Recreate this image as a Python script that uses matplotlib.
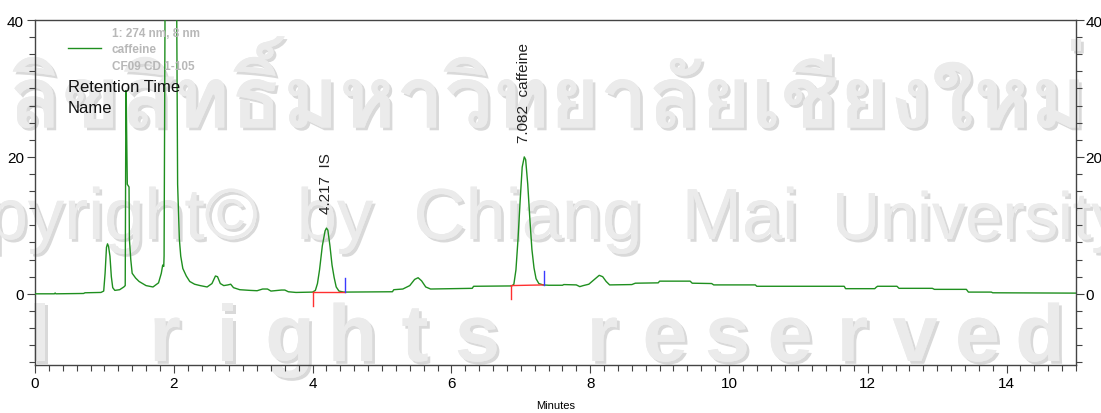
import matplotlib
matplotlib.use("Agg")
import matplotlib.pyplot as plt
import matplotlib.patheffects as pe
from matplotlib.patches import Arc
from matplotlib.ticker import MultipleLocator
from matplotlib import font_manager
from matplotlib.ft2font import FT2Font

# chromatogram trace, 274 nm channel
time_min = [
    0.00, 0.28, 0.29, 0.30, 0.70, 0.72, 0.95, 0.99, 1.01, 1.03, 1.045, 1.06, 1.08, 1.10, 1.12,
    1.15, 1.22, 1.28, 1.30, 1.305, 1.31, 1.315, 1.32, 1.33, 1.355, 1.36, 1.38, 1.40, 1.45, 1.50,
    1.60, 1.70, 1.78, 1.82, 1.84, 1.855, 1.86, 1.875, 1.92, 1.96, 2.00, 2.04, 2.055, 2.08, 2.10,
    2.13, 2.18, 2.23, 2.30, 2.38, 2.48, 2.55, 2.60, 2.63, 2.67, 2.72, 2.78, 2.82, 2.86, 2.95,
    3.10, 3.20, 3.28, 3.35, 3.40, 3.55, 3.60, 3.65, 3.76, 4.00, 4.04, 4.07, 4.10, 4.14, 4.18,
    4.20, 4.22, 4.25, 4.28, 4.31, 4.34, 4.38, 4.45, 5.15, 5.17, 5.30, 5.40, 5.47, 5.52, 5.57,
    5.63, 5.70, 6.30, 6.32, 6.87, 6.90, 6.93, 6.96, 6.99, 7.02, 7.05, 7.07, 7.10, 7.13, 7.16,
    7.19, 7.22, 7.26, 7.32, 7.40, 7.60, 7.62, 7.80, 7.85, 7.90, 7.98, 8.05, 8.13, 8.18, 8.23,
    8.28, 8.60, 8.65, 8.98, 9.00, 9.44, 9.47, 9.75, 9.78, 10.38, 10.40, 11.66, 11.68, 12.10, 12.12,
    12.14, 12.42, 12.45, 12.93, 12.96, 13.42, 13.45, 13.78, 13.80, 15.00,
]
signal = [
    0.0, 0.0, 0.12, 0.0, 0.05, 0.15, 0.2, 0.4, 3.0, 6.8, 7.3, 6.9, 5.5, 2.5, 0.9,
    0.5, 0.6, 1.0, 1.2, 15.0, 29.7, 29.0, 24.0, 16.0, 15.6, 8.0, 5.0, 3.0, 2.3, 1.8,
    1.2, 1.0, 1.6, 3.0, 4.2, 4.0, 5.5, 45.0, 90.0, 110.0, 90.0, 45.0, 16.0, 8.0, 5.5,
    3.7, 2.6, 1.8, 1.4, 1.2, 1.0, 1.5, 2.6, 2.5, 1.5, 1.2, 1.3, 1.4, 0.9, 0.6,
    0.5, 0.45, 0.7, 0.7, 0.4, 0.55, 0.55, 0.3, 0.2, 0.25, 0.5, 1.5, 3.5, 7.0, 9.2,
    9.6, 9.3, 7.0, 4.2, 2.4, 1.0, 0.4, 0.25, 0.3, 0.6, 0.7, 1.2, 2.1, 2.35, 1.9,
    1.0, 0.7, 0.8, 1.1, 1.15, 1.4, 3.5, 8.0, 13.5, 18.5, 20.0, 19.6, 16.0, 11.0, 6.5,
    3.8, 2.2, 1.5, 1.3, 1.25, 1.25, 1.35, 1.3, 1.05, 1.2, 1.4, 2.0, 2.7, 2.5, 1.8,
    1.3, 1.35, 1.55, 1.6, 1.85, 1.85, 1.55, 1.5, 1.3, 1.3, 1.1, 1.1, 0.75, 0.75, 0.95,
    1.1, 1.1, 0.8, 0.8, 0.65, 0.65, 0.25, 0.25, 0.15, 0.1,
]

# integrated peaks: retention time, name, apex, baseline start/end (time, level)
peak_rt = [4.217, 7.082]
peak_name = ["IS", "caffeine"]
peak_apex = [9.6, 20.0]
base_start = [(4.01, 0.25), (6.86, 1.2)]
base_end = [(4.46, 0.25), (7.33, 1.3)]

x_labels = [0, 2, 4, 6, 8, 10, 12, 14]
y_labels = [0, 20, 40]

W, H = 1101, 414
green = "#1f8f1f"
tick_font = ["Liberation Sans Narrow", "Liberation Sans"]


def thai_family():
    for f in font_manager.fontManager.ttflist:
        try:
            if 0x0E25 in FT2Font(f.fname).get_charmap():
                return f.name
        except Exception:
            pass
    return None


fig = plt.figure(figsize=(W / 100, H / 100), dpi=100)

# watermark layer in pixel coordinates
bg = fig.add_axes([0, 0, 1, 1], zorder=0)
bg.set_xlim(0, W)
bg.set_ylim(H, 0)
bg.axis("off")
wm = "#ebebeb"
shadow = [pe.withSimplePatchShadow(offset=(2, -2), shadow_rgbFace="#d9d9d9", alpha=1.0), pe.Normal()]
bg.add_patch(Arc((560, -60), 1000, 150, theta1=180, theta2=360, color=wm, lw=5))
bg.add_patch(Arc((560, -60), 950, 126, theta1=180, theta2=360, color=wm, lw=4))

tf = thai_family()
if tf:
    bg.text(548, 100, "ลิขสิทธิ์มหาวิทยาลัยเชียงใหม่", family=[tf, "DejaVu Sans"], fontsize=62,
            fontweight="bold", color=wm, ha="center", va="center", path_effects=shadow)

copyright_words = [("Copyright©", 258, "right", 52), ("by", 335, "center", 52),
                   ("Chiang", 528, "center", 52), ("Mai", 740, "center", 52),
                   ("University", 832, "left", 48)]
for word, px, align, size in copyright_words:
    bg.text(px, 240, word, family="Liberation Sans", fontsize=size, color=wm, ha=align,
            va="baseline", path_effects=shadow)
for i, ch in enumerate("All rights reserved"):
    bg.text(-85 + i * 62.5, 362, ch, family="Liberation Sans", fontsize=58, fontweight="bold",
            color=wm, ha="center", va="baseline", path_effects=shadow)

# main chromatogram axes
l, r, t, b = 35, 1076, 21, 366
ax = fig.add_axes([l / W, 1 - b / H, (r - l) / W, (b - t) / H], zorder=1)
ax.set_facecolor("none")
ax.plot(time_min, signal, color=green, lw=1.0, zorder=3)

for rt, name, apex, s, e in zip(peak_rt, peak_name, peak_apex, base_start, base_end):
    ax.plot([s[0], e[0]], [s[1], e[1]], color="#ff3030", lw=1.0, zorder=4)
    ax.plot([s[0], s[0]], [s[1], s[1] - 2.0], color="#ff3030", lw=1.0, zorder=4)
    ax.plot([e[0], e[0]], [e[1], e[1] + 2.1], color="#3a3aff", lw=1.0, zorder=4)
    ax.text(rt - 0.03, apex + 2.2, f"{rt:.3f}  {name}", rotation=90, ha="center", va="bottom",
            family="Liberation Sans", fontsize=11, color="#222222")

ax.set_xlim(0, 15)
ax.set_ylim(-10.4, 40)
ax.set_xticks(x_labels)
ax.xaxis.set_minor_locator(MultipleLocator(0.2))
ax.set_yticks(y_labels)
ax.yaxis.set_minor_locator(MultipleLocator(2.5))
ax.tick_params(which="major", length=6, width=0.8, color="#444444", labelsize=11, pad=2)
ax.tick_params(which="minor", length=4, width=0.8, color="#444444")
for lab in ax.get_xticklabels() + ax.get_yticklabels():
    lab.set_family(tick_font)
for sp in ax.spines.values():
    sp.set_color("#444444")
    sp.set_linewidth(1.0)
ax.set_xlabel("Minutes", family=tick_font, fontsize=8, labelpad=7)

ax2 = ax.twinx()
ax2.set_facecolor("none")
ax2.set_ylim(ax.get_ylim())
ax2.set_yticks(y_labels)
ax2.yaxis.set_minor_locator(MultipleLocator(2.5))
ax2.tick_params(which="major", length=6, width=0.8, color="#444444", labelsize=11, pad=1)
ax2.tick_params(which="minor", length=4, width=0.8, color="#444444")
for lab in ax2.get_yticklabels():
    lab.set_family(tick_font)
for sp in ax2.spines.values():
    sp.set_visible(False)


def frac(px, py):
    return (px - l) / (r - l), (b - py) / (b - t)


# channel legend and peak label fields
ax.plot([frac(68, 0)[0], frac(101, 0)[0]], [frac(0, 49)[1]] * 2, transform=ax.transAxes,
        color=green, lw=1.0, clip_on=False)
for py, txt in [(37, "1: 274 nm, 8 nm"), (53, "caffeine"), (70, "CF09 CD 1-105")]:
    ax.text(*frac(112, py), txt, transform=ax.transAxes, family="Liberation Sans", fontsize=8.5,
            fontweight="bold", color="#b8b8b8", va="baseline")
for py, txt in [(92, "Retention Time"), (113, "Name")]:
    ax.text(*frac(68, py), txt, transform=ax.transAxes, family="Liberation Sans", fontsize=12,
            color="#111111", va="baseline")

fig.savefig("out.png", dpi=100)
